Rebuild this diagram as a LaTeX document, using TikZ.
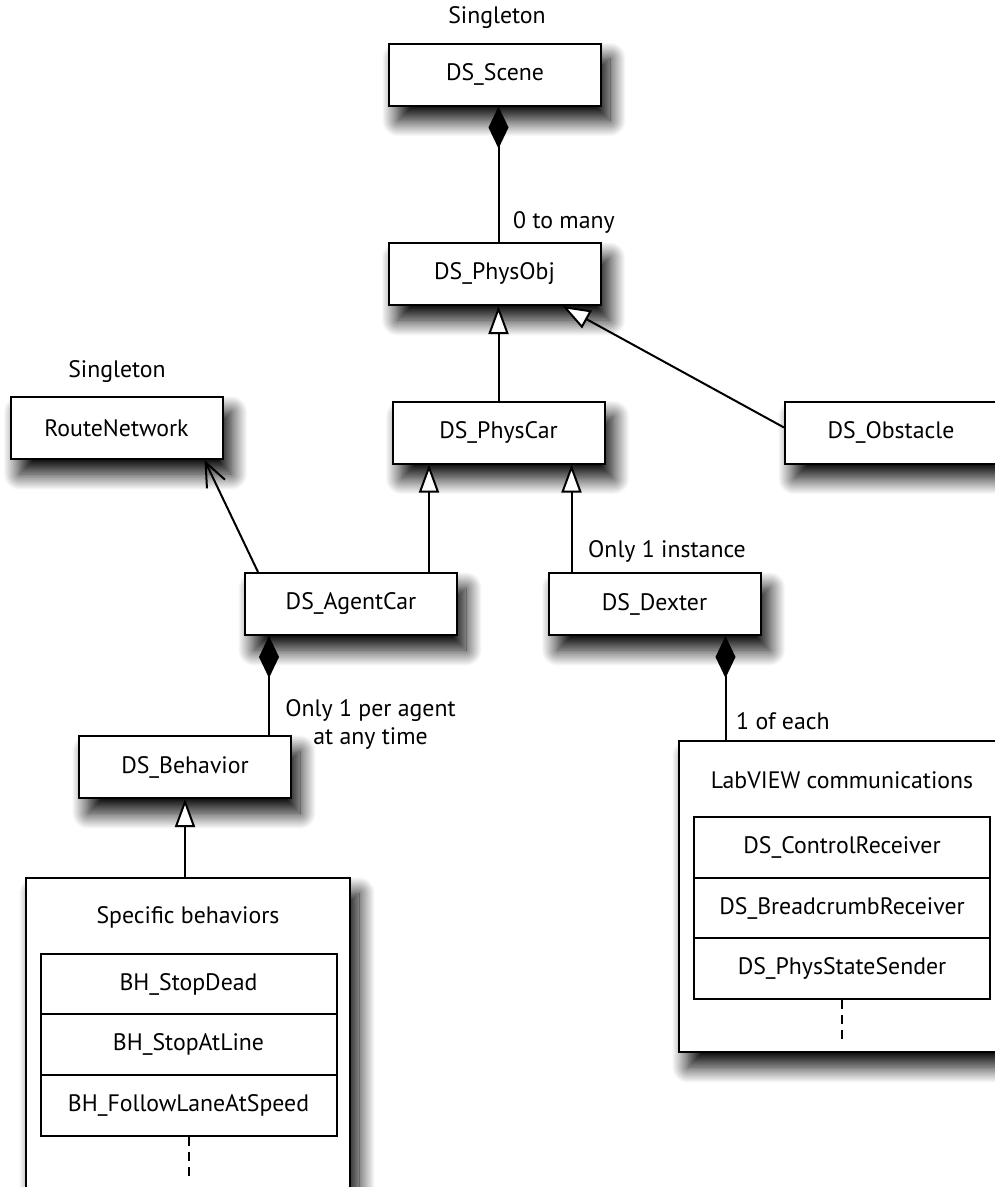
\documentclass[tikz,border=0pt]{standalone}
\usepackage{fontspec}
\setmainfont{PT Sans}
\usetikzlibrary{arrows.meta,shadows.blur,calc}
\begin{document}
\begin{tikzpicture}[x=1pt,y=-1pt,
  font=\fontsize{23.8}{28}\selectfont,
  shd/.style={blur shadow={shadow xshift=9pt, shadow yshift=-15pt, shadow blur radius=16pt, shadow blur steps=24, shadow opacity=100}},
  cls/.style={draw, line width=2pt, fill=white, minimum width=212pt, minimum height=62pt, inner sep=0pt, shd},
  cont/.style={draw, line width=2pt, fill=white, inner sep=0pt, shd},
  rowbox/.style={draw, line width=2pt, fill=white, minimum width=296pt, minimum height=61pt, inner sep=0pt},
  lbl/.style={inner sep=0pt},
  conn/.style={line width=2pt},
  compo/.style={conn, {Diamond[length=42pt,width=20pt,fill=black]}-},
  gen/.style={conn, -{Triangle[length=28pt,width=20pt,fill=white]}},
  assoc/.style={conn, -{Straight Barb[length=24pt,width=20pt]}},
  dashline/.style={line width=2pt, dash pattern=on 9pt off 6pt}]
\useasboundingbox (0,0) rectangle (995,1187);
\clip (0,0) rectangle (995,1187);

% classes
\node[lbl] (s1) at (497,18) {Singleton};
\node[cls] (scene) at (495,74.5) {DS\_Scene};
\node[cls] (physobj) at (494.5,274) {DS\_PhysObj};
\node[cls] (physcar) at (498.5,432.5) {DS\_PhysCar};
\node[cls] (obstacle) at (891,432.5) {DS\_Obstacle};
\node[lbl] (s2) at (117,372) {Singleton};
\node[cls] (routenet) at (116.5,428) {RouteNetwork};
\node[cls] (agentcar) at (351,604) {DS\_AgentCar};
\node[cls] (dexter) at (654.5,604) {DS\_Dexter};
\node[cls] (behavior) at (185,767) {DS\_Behavior};

% containers
\node[cont, minimum width=324pt, minimum height=360pt] (specific) at (188,1058) {};
\node[lbl] (spt) at (188,917) {Specific behaviors};
\node[rowbox] (r1) at (188.5,984) {BH\_StopDead};
\node[rowbox] (r2) at (188.5,1044.5) {BH\_StopAtLine};
\node[rowbox] (r3) at (188.5,1105) {BH\_FollowLaneAtSpeed};

\node[cont, minimum width=326pt, minimum height=311pt] (labview) at (842,896.5) {};
\node[lbl] (lvt) at (842,780) {LabVIEW communications};
\node[rowbox] (l1) at (842,847) {DS\_ControlReceiver};
\node[rowbox] (l2) at (842,908) {DS\_BreadcrumbReceiver};
\node[rowbox] (l3) at (842,968.5) {DS\_PhysStateSender};

% labels
\node[lbl, anchor=west] (m1) at (513,222) {0 to many};
\node[lbl, anchor=west] (m2) at (588,551) {Only 1 instance};
\node[lbl, align=center] (m3) at (370.5,724) {Only 1 per agent\\at any time};
\node[lbl, anchor=west] (m4) at (736,721) {1 of each};

% coordinates
\coordinate (a1) at ([xshift=-29pt]agentcar.north east);
\coordinate (d1) at ([xshift=24pt]dexter.north west);
\coordinate (a2) at ([xshift=25pt]agentcar.south west);
\coordinate (d2) at ([xshift=-36pt]dexter.south east);

% connectors
\draw[compo] (scene.south -| physcar.north) -- (physobj.north -| physcar.north);
\draw[gen] (physcar.north) -- (physobj.south -| physcar.north);
\draw[gen] ([yshift=5pt]obstacle.west) -- ([xshift=-39pt]physobj.south east);
\draw[gen] (a1) -- (a1 |- physcar.south);
\draw[gen] (d1) -- (d1 |- physcar.south);
\draw[assoc] ([xshift=14pt]agentcar.north west) -- ([xshift=-19pt]routenet.south east);
\draw[compo] (a2) -- (a2 |- behavior.north);
\draw[compo] (d2) -- (d2 |- labview.north);
\draw[gen] (specific.north -| behavior.south) -- (behavior.south);
\draw[dashline] (r3.south) -- ++(0,41);
\draw[dashline] (l3.south) -- ++(0,41);
\end{tikzpicture}
\end{document}
